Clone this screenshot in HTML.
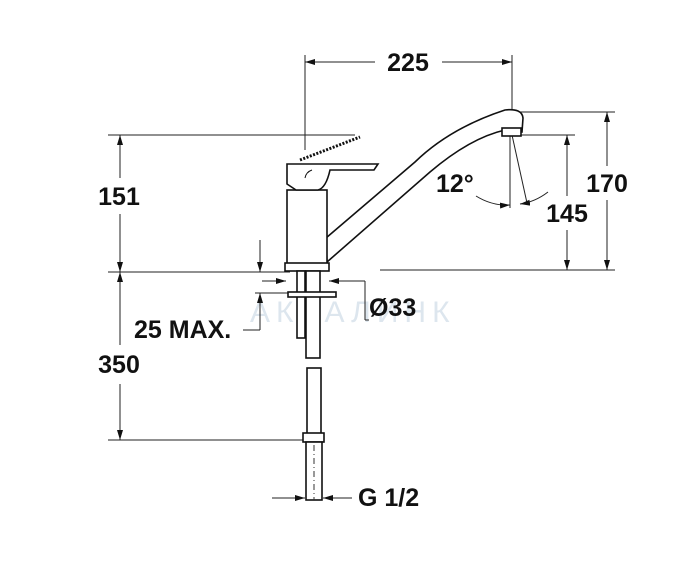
<!DOCTYPE html>
<html><head><style>body{margin:0;background:#fff}svg{display:block}text{font-family:"Liberation Sans",sans-serif;font-weight:bold;fill:#111}</style></head>
<body>
<svg width="700" height="578" viewBox="0 0 700 578" xmlns="http://www.w3.org/2000/svg">
<defs><marker id="a" viewBox="0 0 10 6" refX="10" refY="3" markerWidth="10" markerHeight="6" orient="auto-start-reverse"><path d="M0,0L10,3L0,6z" fill="#111"/></marker></defs>
<text x="250" y="322" font-size="30" style="fill:#dde6ee;font-weight:normal" letter-spacing="6">АКВАЛИНК</text>
<g stroke="#222" stroke-width="1" fill="none">
<line x1="305" y1="55" x2="305" y2="150"/><line x1="512" y1="55" x2="512" y2="112"/>
<line x1="305" y1="62" x2="375" y2="62" marker-start="url(#a)"/><line x1="442" y1="62" x2="512" y2="62" marker-end="url(#a)"/>
<line x1="108" y1="135" x2="355" y2="135"/><line x1="108" y1="272" x2="290" y2="272"/>
<line x1="120" y1="135" x2="120" y2="178" marker-start="url(#a)"/><line x1="120" y1="214" x2="120" y2="272" marker-end="url(#a)"/>
<line x1="515" y1="112" x2="615" y2="112"/><line x1="380" y1="270" x2="615" y2="270"/>
<line x1="520" y1="135" x2="575" y2="135"/>
<line x1="607" y1="112" x2="607" y2="166" marker-start="url(#a)"/><line x1="607" y1="200" x2="607" y2="270" marker-end="url(#a)"/>
<line x1="567" y1="135" x2="567" y2="196" marker-start="url(#a)"/><line x1="567" y1="230" x2="567" y2="270" marker-end="url(#a)"/>
<line x1="510" y1="135" x2="510" y2="208"/><line x1="512" y1="135" x2="527" y2="203"/>
<path d="M476,196 Q492,206 510,205" marker-end="url(#a)"/><path d="M548,192 Q535,202 520,204" marker-end="url(#a)"/>
<line x1="255" y1="293" x2="292" y2="293"/>
<line x1="260" y1="240" x2="260" y2="272" marker-end="url(#a)"/><line x1="260" y1="330" x2="260" y2="293" marker-end="url(#a)"/>
<line x1="243" y1="330" x2="260" y2="330"/>
<line x1="108" y1="440" x2="305" y2="440"/>
<line x1="120" y1="272" x2="120" y2="345" marker-start="url(#a)"/><line x1="120" y1="384" x2="120" y2="440" marker-end="url(#a)"/>
<line x1="262" y1="281" x2="286" y2="281" marker-end="url(#a)"/><line x1="365" y1="281" x2="329" y2="281" marker-end="url(#a)"/>
<line x1="365" y1="281" x2="365" y2="320"/><line x1="365" y1="320" x2="369" y2="320"/>
<line x1="272" y1="498" x2="305" y2="498" marker-end="url(#a)"/><line x1="352" y1="498" x2="323" y2="498" marker-end="url(#a)"/>
</g>
<g stroke="#111" stroke-width="1.6" fill="#fff">
<path d="M326,238 L415,162 Q450,128 505,110 Q522,108 523,118 L522,132 L505,130 Q470,138 430,172 L327,262 Z"/>
<rect x="502" y="128" width="19" height="8"/>
<rect x="287" y="190" width="40" height="74"/>
<rect x="285" y="263" width="44" height="8"/>
<path d="M287,164 L378,164 L374,170 L330,170 Q326,188 318,190 L296,190 L287,184 Z"/>
<path d="M305,178 Q306,172 312,170" fill="none" stroke-width="1"/>
<rect x="297" y="271" width="8" height="67"/>
<rect x="306" y="271" width="14" height="87"/>
<rect x="288" y="292" width="48" height="5"/>
<rect x="307" y="368" width="14" height="66"/>
<rect x="303" y="433" width="21" height="9"/>
<rect x="306" y="442" width="16" height="58"/>
</g>
<line x1="300" y1="160" x2="360" y2="137" stroke="#111" stroke-width="3" stroke-dasharray="2,1.5"/>
<line x1="314" y1="445" x2="314" y2="500" stroke="#333" stroke-width="1" stroke-dasharray="6,3,1,3"/>
<g font-size="25">
<text x="408" y="71" text-anchor="middle">225</text>
<text x="119" y="205" text-anchor="middle">151</text>
<text x="607" y="192" text-anchor="middle">170</text>
<text x="567" y="222" text-anchor="middle">145</text>
<text x="436" y="192">12°</text>
<text x="119" y="373" text-anchor="middle">350</text>
<text x="134" y="338">25 MAX.</text>
<text x="369" y="316">Ø33</text>
<text x="358" y="506">G 1/2</text>
</g>
</svg>
</body></html>
